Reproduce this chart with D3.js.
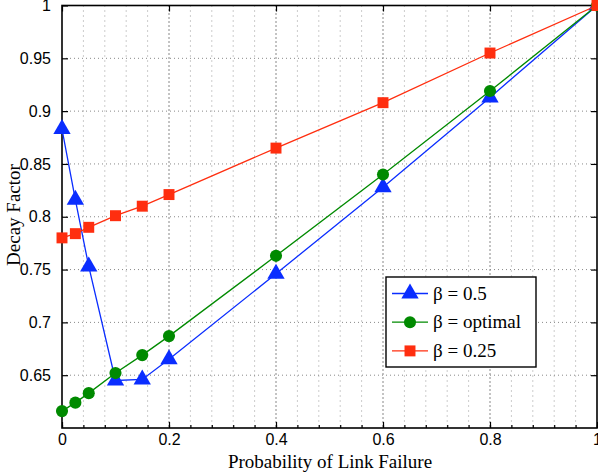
<!DOCTYPE html>
<html>
<head>
<meta charset="utf-8">
<script src="https://cdn.jsdelivr.net/npm/d3@7"></script>
<style>
  body { margin: 0; background: #fff; }
  svg { display: block; }
</style>
</head>
<body>
<div id="chart"></div>
<script>
// data
var failProb = [0, 0.025, 0.05, 0.1, 0.15, 0.2, 0.4, 0.6, 0.8, 1];
var betaHalf = [0.883, 0.816, 0.753, 0.645, 0.646, 0.665, 0.746, 0.828, 0.913, 1];
var betaOptimal = [0.616, 0.624, 0.633, 0.652, 0.669, 0.687, 0.763, 0.840, 0.919, 1];
var betaQuarter = [0.780, 0.784, 0.790, 0.801, 0.810, 0.821, 0.865, 0.908, 0.955, 1];
var seriesNames = ["\u03b2 = 0.5", "\u03b2 = optimal", "\u03b2 = 0.25"];
var xTicks = [0, 0.2, 0.4, 0.6, 0.8, 1];
var xMinorTicks = d3.range(0, 1.0001, 0.04);
var yTicks = [0.65, 0.7, 0.75, 0.8, 0.85, 0.9, 0.95, 1];

var W = 598, H = 472;
var pLeft = 62, pRight = 597, pTop = 5.5, pBottom = 428;

var svg = d3.select("#chart").append("svg")
    .attr("width", W)
    .attr("height", H);

var x = d3.scaleLinear().domain([0, 1]).range([pLeft, pRight]);
var y = d3.scaleLinear().domain([0.6, 1]).range([pBottom, pTop]);

// grid
var grid = svg.append("g");
grid.selectAll(".minor")
    .data(xMinorTicks.filter(function(d) { return Math.abs(d / 0.2 - Math.round(d / 0.2)) > 1e-6; }))
    .enter().append("line")
    .attr("x1", d => x(d)).attr("x2", d => x(d))
    .attr("y1", pTop).attr("y2", pBottom)
    .attr("stroke", "#999").attr("stroke-width", 1)
    .attr("stroke-dasharray", "1,4");
grid.selectAll(".majorx")
    .data(xTicks.slice(1, -1))
    .enter().append("line")
    .attr("x1", d => x(d)).attr("x2", d => x(d))
    .attr("y1", pTop).attr("y2", pBottom)
    .attr("stroke", "#111").attr("stroke-width", 1)
    .attr("stroke-dasharray", "1,3");
grid.selectAll(".majory")
    .data(yTicks.slice(0, -1))
    .enter().append("line")
    .attr("x1", pLeft).attr("x2", pRight)
    .attr("y1", d => y(d)).attr("y2", d => y(d))
    .attr("stroke", "#888").attr("stroke-width", 1)
    .attr("stroke-dasharray", "1,3");

// axes (ticks pointing inward, box all round)
var axisFont = "Liberation Sans, Arial, sans-serif";
var xAxis = svg.append("g")
    .attr("transform", "translate(0," + pBottom + ")")
    .call(d3.axisBottom(x).tickValues(xTicks).tickSize(-6).tickPadding(6)
        .tickFormat(d => d === 0 || d === 1 ? d3.format("d")(d) : d3.format(".1f")(d)));
xAxis.select(".domain").remove();
xAxis.selectAll("text").attr("font-family", axisFont).attr("font-size", 16).attr("fill", "#000");

var xMinor = svg.append("g")
    .attr("transform", "translate(0," + pBottom + ")")
    .call(d3.axisBottom(x).tickValues(xMinorTicks).tickSize(-3).tickFormat(""));
xMinor.select(".domain").remove();

var xTopAxis = svg.append("g")
    .attr("transform", "translate(0," + pTop + ")")
    .call(d3.axisTop(x).tickValues(xTicks).tickSize(-6).tickFormat(""));
xTopAxis.select(".domain").remove();

var yAxis = svg.append("g")
    .attr("transform", "translate(" + pLeft + ",0)")
    .call(d3.axisLeft(y).tickValues(yTicks).tickSize(-6).tickPadding(11)
        .tickFormat(d => d === 1 ? "1" : String(+d.toFixed(2))));
yAxis.select(".domain").remove();
yAxis.selectAll("text").attr("font-family", axisFont).attr("font-size", 16).attr("fill", "#000");

var yRight = svg.append("g")
    .attr("transform", "translate(" + pRight + ",0)")
    .call(d3.axisRight(y).tickValues(yTicks).tickSize(-6).tickFormat(""));
yRight.select(".domain").remove();

svg.selectAll(".tick line").attr("stroke", "#000").attr("stroke-width", 1.2);

svg.append("rect")
    .attr("x", pLeft).attr("y", pTop)
    .attr("width", pRight - pLeft).attr("height", pBottom - pTop)
    .attr("fill", "none").attr("stroke", "#000").attr("stroke-width", 1.6);

// axis titles
var serif = "Liberation Serif, Times New Roman, serif";
svg.append("text")
    .attr("x", 330).attr("y", 468)
    .attr("text-anchor", "middle")
    .attr("font-family", serif).attr("font-size", 19)
    .text("Probability of Link Failure");
svg.append("text")
    .attr("transform", "translate(20,215) rotate(-90)")
    .attr("text-anchor", "middle")
    .attr("font-family", serif).attr("font-size", 19)
    .text("Decay Factor");

// series
var series = [
    {name: seriesNames[0], values: betaHalf, color: "#0a2dff", shape: d3.symbolTriangle, size: 130},
    {name: seriesNames[1], values: betaOptimal, color: "#008a00", shape: d3.symbolCircle, size: 115},
    {name: seriesNames[2], values: betaQuarter, color: "#ff2e0f", shape: d3.symbolSquare, size: 120}
];

var line = d3.line()
    .x((d, i) => x(failProb[i]))
    .y(d => y(d));

series.forEach(function(s) {
    var g = svg.append("g");
    g.append("path")
        .attr("d", line(s.values))
        .attr("fill", "none")
        .attr("stroke", s.color)
        .attr("stroke-width", 1.3);
    g.selectAll("path.mark")
        .data(s.values)
        .enter().append("path")
        .attr("class", "mark")
        .attr("d", d3.symbol().type(s.shape).size(s.size))
        .attr("transform", (d, i) => "translate(" + x(failProb[i]) + "," + y(d) + ")")
        .attr("fill", s.color);
});

// legend
var lg = svg.append("g").attr("transform", "translate(386,277)");
lg.append("rect")
    .attr("width", 150).attr("height", 90)
    .attr("fill", "#fff").attr("stroke", "#000").attr("stroke-width", 1.4);
series.forEach(function(s, i) {
    var ry = 16.5 + i * 28.7;
    lg.append("line")
        .attr("x1", 6).attr("x2", 42)
        .attr("y1", ry).attr("y2", ry)
        .attr("stroke", s.color).attr("stroke-width", 1.3);
    lg.append("path")
        .attr("d", d3.symbol().type(s.shape).size(s.size))
        .attr("transform", "translate(24," + ry + ")")
        .attr("fill", s.color);
    lg.append("text")
        .attr("x", 47).attr("y", ry + 6)
        .attr("font-family", serif).attr("font-size", 19)
        .text(s.name);
});
</script>
</body>
</html>
